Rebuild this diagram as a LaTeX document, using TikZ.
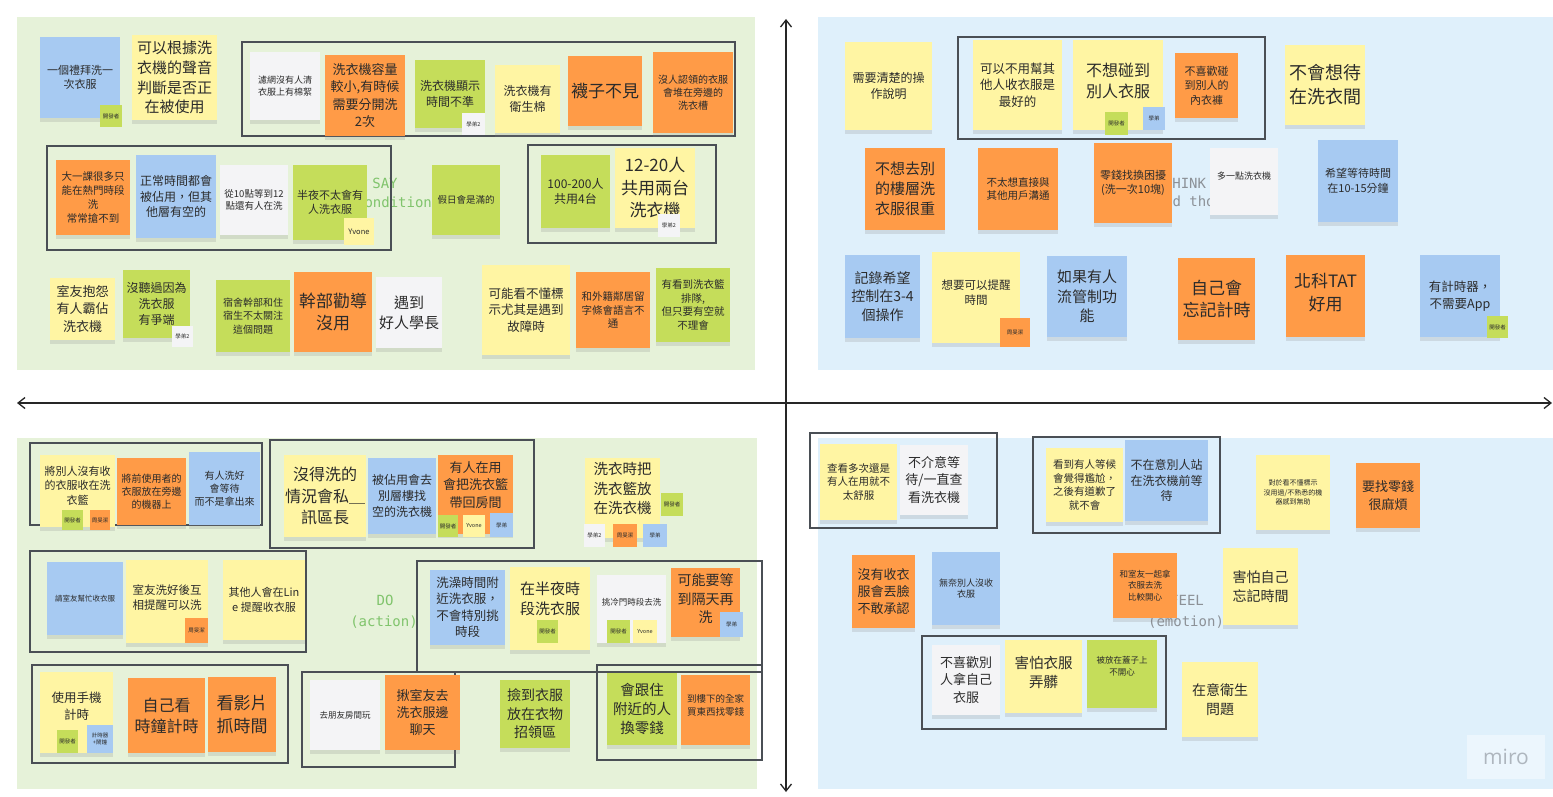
\documentclass[tikz,border=0pt]{standalone}
\usepackage{fontspec}
\newfontfamily\cjk{Noto Sans CJK TC}
\newfontfamily\monof{DejaVu Sans Mono}
\newfontfamily\sansf{Open Sans}
\usetikzlibrary{shadows,arrows.meta}
\definecolor{panelG}{HTML}{E6F2D9}
\definecolor{panelB}{HTML}{DFF0FB}
\definecolor{stY}{HTML}{FFF5A3}
\definecolor{stO}{HTML}{FF9B47}
\definecolor{stG}{HTML}{C5DD5A}
\definecolor{stB}{HTML}{A7CAF2}
\definecolor{stW}{HTML}{F4F4F6}
\definecolor{ink}{HTML}{2B2B2B}
\definecolor{boxc}{HTML}{4A4F55}
\definecolor{lblG}{HTML}{80C46C}
\definecolor{lblK}{HTML}{8C9197}
\definecolor{miroc}{HTML}{AEB6BE}
\tikzset{
  sticky/.style={draw=none,inner sep=1pt,align=center,text=ink,
    drop shadow={opacity=0.2,shadow xshift=0pt,shadow yshift=-4pt}},
  tagbox/.style={draw=none,inner sep=0.5pt,align=center,text=ink,
    font=\cjk\fontsize{5.5}{6.5}\selectfont},
  gbox/.style={draw=boxc,line width=1.2pt},
  axisline/.style={draw=black!85,line width=1.3pt},
  quadlbl/.style={font=\monof\fontsize{14}{18}\selectfont,align=center},
}
\newcommand{\stk}[9][]{\node[sticky,fill=#7,minimum width=#5pt,minimum height=#6pt,
  font=\cjk\fontsize{#8}{\fpeval{#8*1.32}}\selectfont,#1] (#2) at ({#3+#5/2},{#4+#6/2}) {#9};}
\newcommand{\tg}[7]{\node[tagbox,fill=#6,minimum width=#4pt,minimum height=#5pt] (#1) at ({#2+#4/2},{#3+#5/2}) {#7};}
\begin{document}
\begin{tikzpicture}[x=1pt,y=-1pt]
\useasboundingbox (0,0) rectangle (1553,797);
\fill[white] (0,0) rectangle (1553,797);
% panels
\fill[panelG] (17,17) rectangle (755,370);
\fill[panelB] (818,17) rectangle (1553,370);
\fill[panelG] (17,438) rectangle (757,789);
\fill[panelB] (818,438) rectangle (1553,789);
% axes
\coordinate (vtop) at (786,19);
\coordinate (vbot) at (786,792);
\coordinate (hleft) at (17,403);
\coordinate (hright) at (1552,403);
\draw[axisline,{Straight Barb[length=7pt,width=11pt]}-{Straight Barb[length=7pt,width=11pt]}] (vbot) -- (vtop);
\draw[axisline,{Straight Barb[length=7pt,width=11pt]}-{Straight Barb[length=7pt,width=11pt]}] (hleft) -- (hright);
% quadrant labels
\node[quadlbl,text=lblG] (say1) at (385,183) {SAY};
\node[quadlbl,text=lblG] (say2) at (394,203) {(condition)};
\node[quadlbl,text=lblK] (think1) at (1185,183) {THINK};
\node[quadlbl,text=lblK] (think2) at (1202,203) {(and thought)};
\node[quadlbl,text=lblG] (do1) at (385,600) {DO};
\node[quadlbl,text=lblG] (do2) at (384,622) {(action)};
\node[quadlbl,text=lblK] (feel1) at (1187,600) {FEEL};
\node[quadlbl,text=lblK] (feel2) at (1186,622) {(emotion)};
% group boxes
\draw[gbox] (242,42) rectangle (735,136);
\draw[gbox] (47,146) rectangle (391,250);
\draw[gbox] (528,145) rectangle (716,243);
\draw[gbox] (958,37) rectangle (1265,139);
\draw[gbox] (30,443) rectangle (262,525);
\draw[gbox] (270,440) rectangle (534,548);
\draw[gbox] (30,551) rectangle (306,652);
\draw[gbox] (417,561) rectangle (762,672);
\draw[gbox] (32,665) rectangle (288,763);
\draw[gbox] (302,672) rectangle (455,767);
\draw[gbox] (597,665) rectangle (762,760);
\draw[gbox] (810,433) rectangle (997,528);
\draw[gbox] (1033,437) rectangle (1220,533);
\draw[gbox] (922,636) rectangle (1166,729);
% ---------------- SAY
\stk{s1}{40}{37}{80}{81}{stB}{11}{一個禮拜洗一\\次衣服}
\stk{s2}{132}{35}{85}{85}{stY}{15}{可以根據洗\\衣機的聲音\\判斷是否正\\在被使用}
\stk{s3}{250}{52}{70}{68}{stW}{9}{濾網沒有人清\\衣服上有棉絮}
\stk{s4}{325}{55}{80}{81}{stO}{13}{洗衣機容量\\較小,有時候\\需要分開洗\\2次}
\stk{s5}{415}{60}{70}{68}{stG}{12}{洗衣機顯示\\時間不準}
\stk{s6}{495}{65}{65}{68}{stY}{12}{洗衣機有\\衛生棉}
\stk{s7}{568}{56}{74}{70}{stO}{17}{襪子不見}
\stk{s8}{653}{52}{80}{81}{stO}{10}{沒人認領的衣服\\會堆在旁邊的\\洗衣槽}
\stk{s9}{56}{160}{74}{75}{stO}{10.5}{大一課很多只\\能在熱門時段\\洗\\常常搶不到}
\stk{s10}{136}{155}{80}{83}{stB}{12}{正常時間都會\\被佔用，但其\\他層有空的}
\stk{s11}{220}{165}{68}{70}{stW}{9.5}{從10點等到12\\點還有人在洗}
\stk{s12}{293}{165}{74}{75}{stG}{11}{半夜不太會有\\人洗衣服}
\stk{s13}{432}{165}{68}{70}{stG}{9.5}{假日會是滿的}
\stk{s14}{541}{155}{69}{73}{stG}{12}{100-200人\\共用4台}
\stk{s15}{615}{148}{80}{80}{stY}{17}{12-20人\\共用兩台\\洗衣機}
\stk{s16}{50}{278}{65}{62}{stY}{13}{室友抱怨\\有人霸佔\\洗衣機}
\stk{s17}{123}{270}{67}{68}{stG}{12}{沒聽過因為\\洗衣服\\有爭端}
\stk{s18}{216}{280}{74}{72}{stG}{10}{宿舍幹部和住\\宿生不太關注\\這個問題}
\stk{s19}{294}{272}{78}{80}{stO}{17}{幹部勸導\\沒用}
\stk{s20}{376}{277}{66}{71}{stW}{15}{遇到\\好人學長}
\stk{s21}{482}{265}{88}{90}{stY}{12.5}{可能看不懂標\\示尤其是遇到\\故障時}
\stk{s22}{576}{272}{74}{76}{stO}{10.5}{和外籍鄰居留\\字條會語言不\\通}
\stk{s23}{656}{268}{74}{74}{stG}{10.5}{有看到洗衣籃\\排隊,\\但只要有空就\\不理會}
\tg{t1}{100}{105}{22}{22}{stG}{開發者}
\tg{t5}{462}{113}{23}{22}{stW}{學弟2}
\tg{t12}{344}{218}{30}{27}{stY}{\fontsize{7.5}{8}\selectfont Yvone}
\tg{t15}{658}{214}{22}{23}{stW}{學弟2}
\tg{t17}{172}{326}{21}{21}{stW}{學弟2}
% ---------------- THINK
\stk{s24}{845}{42}{87}{88}{stY}{12}{需要清楚的操\\作說明}
\stk{s25}{973}{40}{89}{90}{stY}{12.5}{可以不用幫其\\他人收衣服是\\最好的}
\stk[text depth=10pt]{s26}{1073}{40}{90}{90}{stY}{16}{不想碰到\\別人衣服}
\stk{s27}{1175}{53}{63}{65}{stO}{11}{不喜歡碰\\到別人的\\內衣褲}
\stk{s28}{1285}{45}{80}{80}{stY}{18}{不會想待\\在洗衣間}
\stk{s29}{865}{148}{80}{82}{stO}{15}{不想去別\\的樓層洗\\衣服很重}
\stk{s30}{978}{148}{80}{82}{stO}{10.5}{不太想直接與\\其他用戶溝通}
\stk{s31}{1094}{143}{78}{80}{stO}{11}{零錢找換困擾\\(洗一次10塊)}
\stk[text depth=12pt]{s32}{1210}{148}{68}{67}{stW}{9}{多一點洗衣機}
\stk{s33}{1318}{140}{80}{82}{stB}{11}{希望等待時間\\在10-15分鐘}
\stk{s34}{845}{255}{75}{83}{stB}{14}{記錄希望\\控制在3-4\\個操作}
\stk[text depth=10pt]{s35}{932}{252}{88}{91}{stY}{11.5}{想要可以提醒\\時間}
\stk{s36}{1047}{256}{80}{81}{stB}{15}{如果有人\\流管制功\\能}
\stk{s37}{1178}{258}{77}{82}{stO}{17}{自己會\\忘記計時}
\stk[text depth=8pt]{s38}{1286}{255}{79}{82}{stO}{17}{北科TAT\\好用}
\stk{s39}{1420}{255}{80}{82}{stB}{12.5}{有計時器，\\不需要App}
\tg{t26a}{1105}{112}{23}{23}{stG}{開發者}
\tg{t26b}{1143}{107}{22}{23}{stB}{學弟}
\tg{t35}{1000}{318}{30}{29}{stO}{周旻潔}
\tg{t39}{1487}{316}{21}{22}{stG}{開發者}
% ---------------- DO
\stk[text depth=12pt]{s40}{40}{455}{75}{72}{stY}{11}{將別人沒有收\\的衣服收在洗\\衣籃}
\stk{s41}{117}{458}{69}{67}{stO}{10}{將前使用者的\\衣服放在旁邊\\的機器上}
\stk{s42}{189}{452}{71}{73}{stB}{10}{有人洗好\\會等待\\而不是拿出來}
\stk{s43}{285}{455}{80}{82}{stY}{16}{沒得洗的\\情況會私＿\\訊區長}
\stk{s44}{368}{458}{68}{76}{stB}{12}{被佔用會去\\別層樓找\\空的洗衣機}
\stk[text depth=20pt]{s45}{438}{455}{75}{79}{stO}{13}{有人在用\\會把洗衣籃\\帶回房間}
\stk[text depth=20pt]{s46}{585}{458}{75}{80}{stY}{14.5}{洗衣時把\\洗衣籃放\\在洗衣機}
\stk{s47}{47}{562}{76}{73}{stB}{7.5}{請室友幫忙收衣服}
\stk[text depth=8pt]{s48}{126}{560}{82}{83}{stY}{11.5}{室友洗好後互\\相提醒可以洗}
\stk{s49}{223}{560}{82}{80}{stY}{11}{其他人會在Lin\\e 提醒收衣服}
\stk{s50}{430}{570}{75}{75}{stB}{12.5}{洗澡時間附\\近洗衣服，\\不會特別挑\\時段}
\stk[text depth=20pt]{s51}{510}{567}{80}{83}{stY}{15}{在半夜時\\段洗衣服}
\stk[text depth=14pt]{s52}{597}{575}{69}{68}{stW}{8.5}{挑冷門時段去洗}
\stk[text depth=8pt]{s53}{671}{568}{69}{69}{stO}{14}{可能要等\\到隔天再\\洗}
\stk[text depth=14pt]{s54}{40}{672}{73}{81}{stY}{12.5}{使用手機\\計時}
\stk{s55}{128}{678}{77}{75}{stO}{16}{自己看\\時鐘計時}
\stk{s56}{208}{677}{68}{75}{stO}{17}{看影片\\抓時間}
\stk{s57}{310}{680}{70}{70}{stW}{8.5}{去朋友房間玩}
\stk{s58}{385}{675}{75}{75}{stO}{13}{揪室友去\\洗衣服邊\\聊天}
\stk{s59}{500}{680}{70}{68}{stG}{14}{撿到衣服\\放在衣物\\招領區}
\stk{s60}{607}{673}{70}{72}{stG}{14.5}{會跟住\\附近的人\\換零錢}
\stk[text depth=10pt]{s61}{681}{675}{69}{70}{stO}{9.5}{到樓下的全家\\買東西找零錢}
\tg{t40a}{62}{510}{21}{20}{stG}{開發者}
\tg{t40b}{90}{510}{20}{20}{stO}{周旻潔}
\tg{t45a}{438}{515}{20}{22}{stG}{開發者}
\tg{t45b}{463}{515}{22}{22}{stY}{Yvone}
\tg{t45c}{490}{513}{23}{24}{stB}{學弟}
\tg{t46a}{661}{493}{22}{23}{stG}{開發者}
\tg{t46b}{584}{524}{21}{23}{stW}{學弟2}
\tg{t46c}{613}{524}{24}{23}{stO}{周旻潔}
\tg{t46d}{643}{524}{24}{23}{stB}{學弟}
\tg{t48}{185}{618}{23}{25}{stO}{周旻潔}
\tg{t51}{537}{620}{21}{23}{stG}{開發者}
\tg{t52a}{607}{620}{23}{23}{stG}{開發者}
\tg{t52b}{633}{620}{24}{23}{stY}{Yvone}
\tg{t53}{720}{612}{23}{25}{stB}{學弟}
\tg{t54a}{57}{730}{21}{23}{stG}{開發者}
\tg{t54b}{87}{725}{26}{28}{stB}{計時器\\+鬧鐘}
% ---------------- FEEL
\stk{s62}{820}{444}{77}{76}{stY}{10.5}{查看多次還是\\有人在用就不\\太舒服}
\stk{s63}{900}{445}{68}{70}{stW}{13}{不介意等\\待/一直查\\看洗衣機}
\stk{s64}{1046}{448}{77}{74}{stY}{10.5}{看到有人等候\\會覺得尷尬，\\之後有道歉了\\就不會}
\stk{s65}{1125}{440}{83}{81}{stB}{12}{不在意別人站\\在洗衣機前等\\待}
\stk{s66}{1256}{455}{74}{75}{stY}{7}{對於看不懂標示\\沒用過/不熟悉的機\\器感到無助}
\stk{s67}{1356}{463}{64}{65}{stO}{13}{要找零錢\\很麻煩}
\stk{s68}{852}{555}{63}{73}{stO}{13}{沒有收衣\\服會丟臉\\不敢承認}
\stk{s69}{932}{552}{68}{73}{stB}{9}{無奈別人沒收\\衣服}
\stk{s70}{1113}{553}{64}{65}{stO}{8.5}{和室友一起拿\\衣服去洗\\比較開心}
\stk{s71}{1223}{548}{75}{77}{stY}{14}{害怕自己\\忘記時間}
\stk{s72}{932}{645}{68}{70}{stW}{13}{不喜歡別\\人拿自己\\衣服}
\stk[text depth=10pt]{s73}{1005}{640}{77}{73}{stY}{14.5}{害怕衣服\\弄髒}
\stk[text depth=16pt]{s74}{1087}{640}{70}{68}{stG}{8.5}{被放在蓋子上\\不開心}
\stk{s75}{1182}{662}{76}{75}{stY}{14}{在意衛生\\問題}
% watermark
\node[fill=panelB!60!white,text=miroc,font=\sansf\fontsize{21}{24}\selectfont,minimum width=78pt,minimum height=44pt] (miro) at (1506,757) {miro};
\end{tikzpicture}
\end{document}
